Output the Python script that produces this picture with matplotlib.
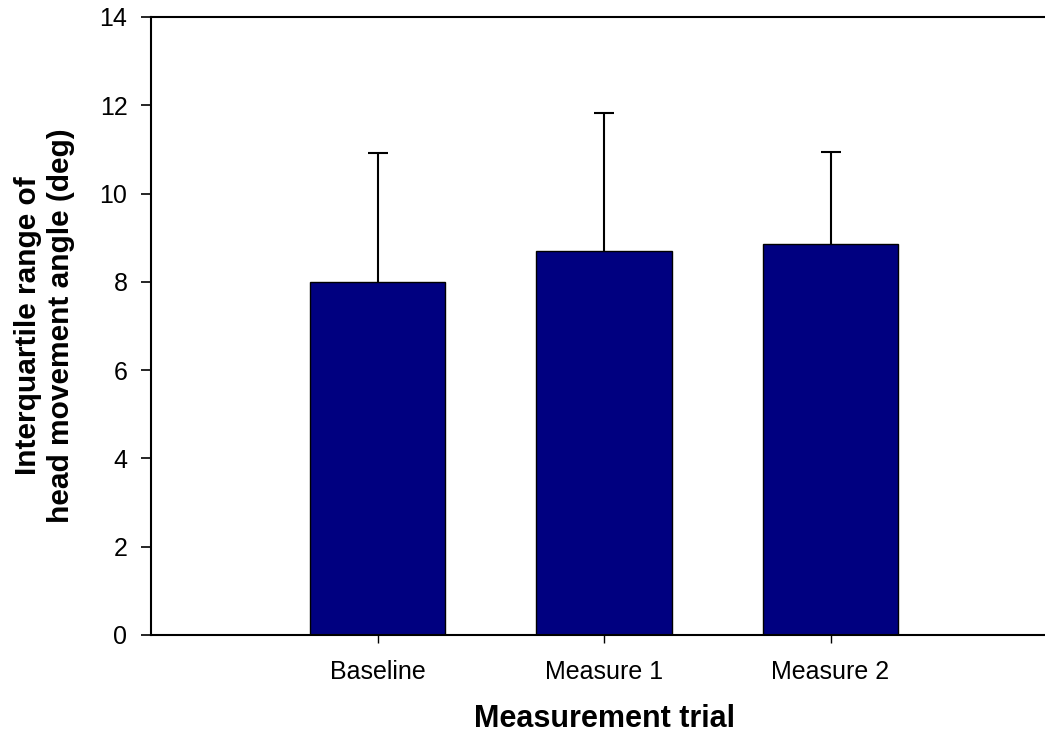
import numpy as np
import matplotlib
matplotlib.use("Agg")
import matplotlib.pyplot as plt

plt.rcParams['font.family'] = ['Liberation Sans', 'DejaVu Sans']

# mean interquartile range per trial, with upper error
trials = ['Baseline', 'Measure 1', 'Measure 2']
means = [8.0, 8.7, 8.86]
errors = [2.91, 3.13, 2.08]

fig = plt.figure(figsize=(10.45, 7.35), dpi=100)
ax = fig.add_axes([0.1445, 0.1361, 0.867, 0.8408])

x = np.arange(len(trials))
tops = np.array(means) + np.array(errors)
ax.bar(x, means, width=0.6, color='#000080', edgecolor='black', linewidth=1.0, zorder=2)
# upper-only error bars, cap at the top only
ax.vlines(x, means, tops, color='black', linewidth=1.5, zorder=3)
ax.plot(x, tops, ls='none', marker='_', markersize=15, mew=1.5, color='black', zorder=3)

ax.set_xlim(-1, 3)
ax.set_ylim(0, 14)
ax.set_yticks(np.arange(0, 15, 2))
ax.set_xticks(x)
ax.set_xticklabels(trials)

ax.spines['right'].set_visible(False)
for s in ['left', 'top', 'bottom']:
    ax.spines[s].set_linewidth(1.5)

ax.tick_params(axis='y', direction='out', length=7, width=1.2, labelsize=18, pad=10)
ax.tick_params(axis='x', direction='out', length=6, width=1.0, labelsize=18, pad=12)

ax.set_xlabel('Measurement trial', fontsize=22, fontweight='bold', labelpad=14.5)
ax.set_ylabel('Interquartile range of\nhead movement angle (deg)', fontsize=21.5,
              fontweight='bold', labelpad=18)

plt.savefig('out.png', dpi=100, facecolor='white')
